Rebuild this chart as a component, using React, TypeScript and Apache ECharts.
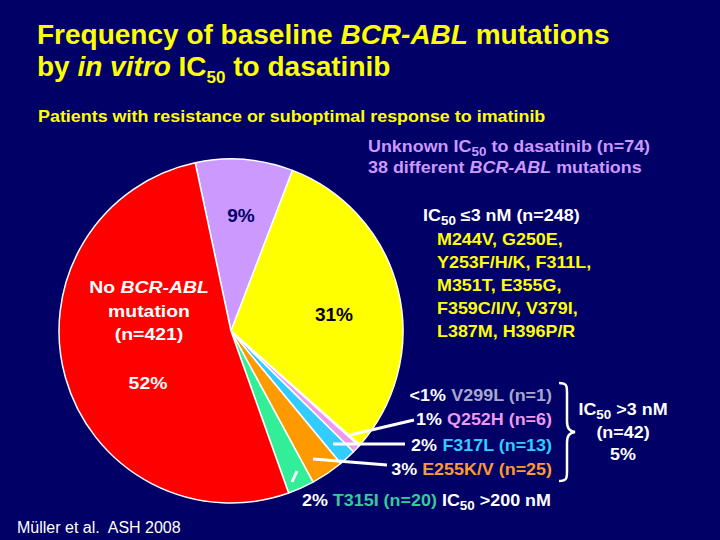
import React, { useEffect, useRef } from "react";
import * as echarts from "echarts";

const sliceNames = [
  "Unknown IC50 (n=74)",
  "IC50 ≤3 nM (n=248)",
  "V299L (n=1)",
  "Q252H (n=6)",
  "F317L (n=13)",
  "E255K/V (n=25)",
  "T315I (n=20)",
  "No BCR-ABL mutation (n=421)",
];
const sliceCounts = [74, 248, 1, 6, 13, 25, 20, 421];
const sliceColors = ["#cc99ff", "#ffff00", "#e8a8f0", "#ee99ee", "#33ccff", "#ff9900", "#33ee99", "#ff0000"];

const FONT = "'Liberation Sans', Arial, sans-serif";
const BG = "#000066";
const SX = 1.12;

function rich(size: number, color: string) {
  const base = { fontFamily: FONT, fontWeight: "bold", fontSize: size, fill: color, lineHeight: size + 6, verticalAlign: "middle" };
  const sub = Math.round(size * 0.75);
  return {
    a: base,
    i: { ...base, fontStyle: "italic" },
    s: { ...base, fontSize: sub, lineHeight: Math.round(sub / 2), padding: [Math.round(size * 0.65), 0, 0, 0] },
  };
}

function txt(x: number, y: number, text: string, size: number, color: string, align = "left", extra: any = {}, sx = SX) {
  return {
    type: "text",
    x,
    y,
    z: 100,
    scaleX: sx,
    style: {
      text,
      align,
      verticalAlign: "middle",
      rich: { ...rich(size, color), ...extra },
      fontFamily: FONT,
      fontWeight: "bold",
      fontSize: size,
      fill: color,
    },
  };
}

function col(size: number, color: string) {
  return { c: { ...rich(size, color).a } };
}

function line(x1: number, y1: number, x2: number, y2: number) {
  return { type: "line", z: 100, shape: { x1, y1, x2, y2 }, style: { stroke: "#ffffff", lineWidth: 3 } };
}

echarts.graphic.registerShape(
  "brace",
  echarts.graphic.extendPath("M0 0 C8 0 8 3 8 10 L8 38 C8 45 10 48 16 49 C10 50 8 53 8 60 L8 88 C8 95 8 98 0 98", {})
);

export default function App() {
  const ref = useRef<HTMLDivElement>(null);
  useEffect(() => {
    const chart = echarts.init(ref.current!, null, { renderer: "svg" });
    chart.setOption({
      animation: false,
      backgroundColor: BG,
      series: [
        {
          type: "pie",
          center: [231, 331],
          radius: 172,
          startAngle: 102,
          clockwise: true,
          label: { show: false },
          labelLine: { show: false },
          itemStyle: { borderColor: "#ffffff", borderWidth: 1.5 },
          data: sliceNames.map((n, i) => ({ name: n, value: sliceCounts[i], itemStyle: { color: sliceColors[i] } })),
        },
      ],
      graphic: [
        {
          type: "text",
          x: 37,
          y: 18,
          z: 100,
          style: {
            text: "{a|Frequency of baseline }{i|BCR-ABL}{a| mutations}\n{a|by }{i|in vitro}{a| IC}{s|50}{a| to dasatinib}",
            rich: {
              a: { fontFamily: FONT, fontWeight: "bold", fontSize: 28, fill: "#ffff00", lineHeight: 32, verticalAlign: "middle" },
              i: { fontFamily: FONT, fontWeight: "bold", fontStyle: "italic", fontSize: 28, fill: "#ffff00", lineHeight: 32, verticalAlign: "middle" },
              s: { fontFamily: FONT, fontWeight: "bold", fontSize: 17, fill: "#ffff00", lineHeight: 8, padding: [22, 0, 0, 0], verticalAlign: "middle" },
            },
          },
        },
        txt(38, 117, "{a|Patients with resistance or suboptimal response to imatinib}", 16, "#ffff00"),
        txt(368, 147, "{a|Unknown IC}{s|50}{a| to dasatinib (n=74)}", 16, "#cc99ff"),
        txt(368, 168, "{a|38 different }{i|BCR-ABL}{a| mutations}", 16, "#cc99ff"),
        txt(423, 216, "{a|IC}{s|50}{a| ≤3 nM (n=248)}", 16, "#ffffff"),
        txt(437, 240, "{a|M244V, G250E,}", 16, "#ffff00"),
        txt(437, 263, "{a|Y253F/H/K, F311L,}", 16, "#ffff00"),
        txt(437, 286, "{a|M351T, E355G,}", 16, "#ffff00"),
        txt(437, 309, "{a|F359C/I/V, V379I,}", 16, "#ffff00"),
        txt(437, 332, "{a|L387M, H396P/R}", 16, "#ffff00"),
        txt(241, 216, "{a|9%}", 18, BG, "center", {}, 1.06),
        txt(334, 315, "{a|31%}", 18, "#000000", "center", {}, 1.06),
        txt(149, 287, "{a|No }{i|BCR-ABL}", 17, "#ffffff", "center", {}, 1.14),
        txt(149, 311, "{a|mutation}", 17, "#ffffff", "center", {}, 1.14),
        txt(149, 334, "{a|(n=421)}", 17, "#ffffff", "center", {}, 1.14),
        txt(148, 383, "{a|52%}", 17, "#ffffff", "center", {}, 1.14),
        txt(552, 396, "{a|<1% }{c|V299L (n=1)}", 16, "#ffffff", "right", col(16, "#a8a8cc")),
        txt(552, 420, "{a|1% }{c|Q252H (n=6)}", 16, "#ffffff", "right", col(16, "#ee99ee")),
        txt(552, 446, "{a|2% }{c|F317L (n=13)}", 16, "#ffffff", "right", col(16, "#33ccff")),
        txt(552, 470, "{a|3% }{c|E255K/V (n=25)}", 16, "#ffffff", "right", col(16, "#ff9933")),
        txt(302, 501, "{a|2% }{c|T315I (n=20)}{a| IC}{s|50}{a| >200 nM}", 16, "#ffffff", "left", col(16, "#33cc99")),
        txt(623, 410, "{a|IC}{s|50}{a| >3 nM}", 16, "#ffffff", "center"),
        txt(623, 433, "{a|(n=42)}", 16, "#ffffff", "center"),
        txt(623, 455, "{a|5%}", 16, "#ffffff", "center"),
        {
          type: "brace",
          x: 559,
          y: 383,
          z: 100,
          style: { stroke: "#ffffff", lineWidth: 2.5, fill: "none" },
        },
        line(350, 435, 414, 420),
        line(333, 444, 405, 444),
        line(313, 459, 387, 465),
        line(292, 482, 297, 471),
        {
          type: "text",
          x: 17,
          y: 527,
          z: 100,
          style: { text: "Müller et al.  ASH 2008", fontFamily: FONT, fontSize: 16, fill: "#ffffff", verticalAlign: "middle" },
        },
      ],
    });
    return () => chart.dispose();
  }, []);
  return <div ref={ref} style={{ position: "fixed", left: 0, top: 0, width: 720, height: 540 }} />;
}
